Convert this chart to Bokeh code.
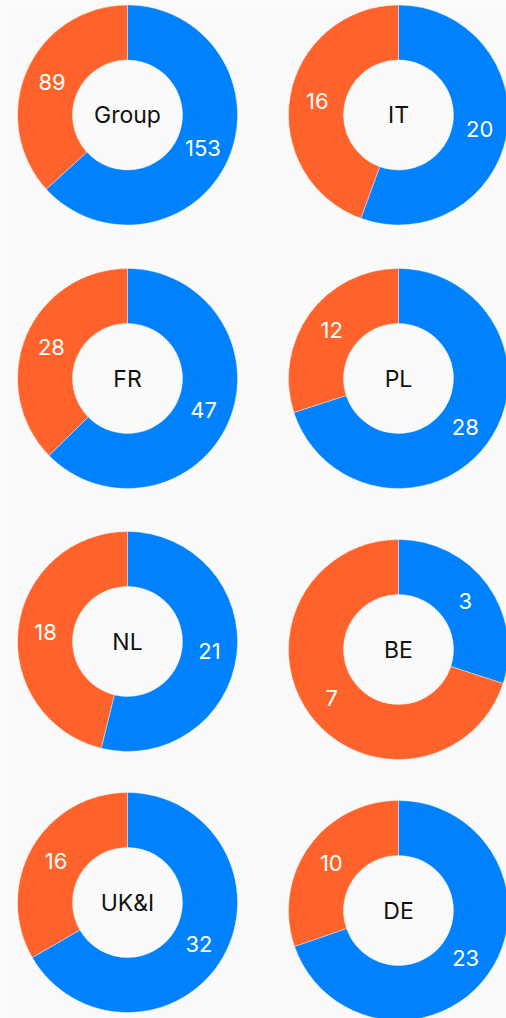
import math
from bokeh.plotting import figure
from bokeh.models import Range1d, ColumnDataSource
from bokeh.core.properties import value
from bokeh.embed import file_html
from bokeh.resources import INLINE

# ---- data ----
regions = ["Group", "IT", "FR", "PL", "NL", "BE", "UK&I", "DE"]
blue_values = [153, 20, 47, 28, 21, 3, 32, 23]
orange_values = [89, 16, 28, 12, 18, 7, 16, 10]

# ---- layout (pixel centres of each donut, 2 columns x 4 rows) ----
W, H = 506, 1018
col_x = [127, 398]
row_y_left = [114.5, 378, 641, 902]
row_y_right = [114.5, 378, 649, 910]
OUTER, INNER = 110, 55
BLUE, ORANGE = "#0082ff", "#ff632b"
BG = "#fafafa"

centres = []
for r in range(4):
    centres.append((col_x[0], H - row_y_left[r]))
    centres.append((col_x[1], H - row_y_right[r]))

w = dict(x=[], y=[], start=[], end=[], color=[])
lab = dict(x=[], y=[], text=[])
ctr = dict(x=[], y=[], text=[])
label_r = (OUTER + INNER) / 2.0

for (cx, cy), name, b, o in zip(centres, regions, blue_values, orange_values):
    total = b + o
    a = 2 * math.pi * b / total  # clockwise sweep of blue from top
    w["x"].append(cx); w["y"].append(cy)
    w["start"].append(math.pi / 2); w["end"].append(math.pi / 2 - a)
    w["color"].append(BLUE)
    w["x"].append(cx); w["y"].append(cy)
    w["start"].append(math.pi / 2 - a); w["end"].append(math.pi / 2 - 2 * math.pi)
    w["color"].append(ORANGE)
    for v, mid in ((b, a / 2), (o, a + (2 * math.pi - a) / 2)):
        lab["x"].append(cx + label_r * math.sin(mid))
        lab["y"].append(cy + label_r * math.cos(mid))
        lab["text"].append(str(v))
    ctr["x"].append(cx); ctr["y"].append(cy); ctr["text"].append(name)

p = figure(width=W, height=H, x_range=Range1d(0, W), y_range=Range1d(0, H),
           x_axis_type=None, y_axis_type=None, toolbar_location=None,
           output_backend="svg", min_border=0)
p.background_fill_color = BG
p.border_fill_color = BG
p.outline_line_color = None
p.grid.visible = False

p.annular_wedge(x="x", y="y", inner_radius=INNER, outer_radius=OUTER,
                inner_radius_units="screen", outer_radius_units="screen",
                start_angle="start", end_angle="end", direction="clock",
                fill_color="color", line_color=BG, line_width=0.4,
                source=ColumnDataSource(w))

p.text(x="x", y="y", text="text", source=ColumnDataSource(lab),
       text_color="white", text_font=value("Inter"), text_font_size="22px",
       text_align="center", text_baseline="middle")

p.text(x="x", y="y", text="text", source=ColumnDataSource(ctr),
       text_color="#111111", text_font=value("Inter"), text_font_size="23px",
       text_align="center", text_baseline="middle")

open("out.html", "w").write(file_html(p, INLINE))
